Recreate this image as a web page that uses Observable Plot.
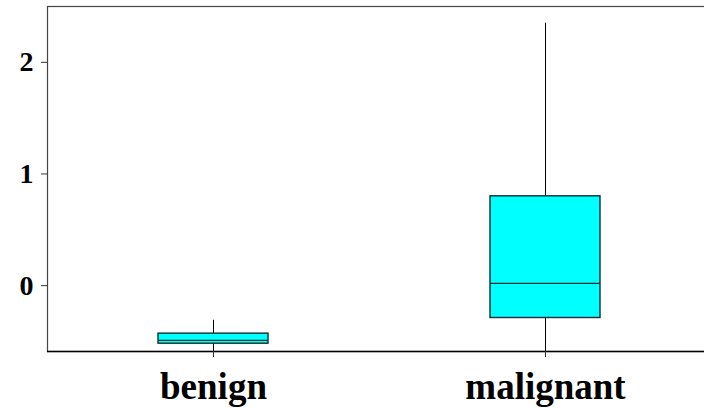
<!DOCTYPE html>
<html>
<head>
<meta charset="utf-8">
<script src="https://cdn.jsdelivr.net/npm/d3@7"></script>
<script src="https://cdn.jsdelivr.net/npm/@observablehq/plot@0.6"></script>
<style>
  html, body { margin: 0; padding: 0; background: #fff; }
  #chart svg { display: block; }
</style>
</head>
<body>
<div id="chart"></div>
<script>
const categories = ["benign", "malignant"];
const whiskerLow = [-0.59, -0.59];
const q1 = [-0.52, -0.29];
const median = [-0.49, 0.02];
const q3 = [-0.43, 0.80];
const whiskerHigh = [-0.31, 2.35];
const yTicks = [0, 1, 2];
const yDomain = [-0.59, 2.5];

const rows = categories.map((c, i) => ({
  cat: c, lo: whiskerLow[i], q1: q1[i], med: median[i], q3: q3[i], hi: whiskerHigh[i]
}));

const chart = Plot.plot({
  width: 704,
  height: 408,
  marginLeft: 47,
  marginRight: 0,
  marginTop: 6,
  marginBottom: 57,
  style: { fontFamily: "'Liberation Serif', 'Times New Roman', serif", background: "#fff", color: "#000" },
  x: { type: "band", domain: categories, range: [47, 711], padding: 0, label: null },
  y: { domain: yDomain, label: null },
  marks: [
    Plot.frame({ stroke: "#444", strokeWidth: 1.2, insetRight: -10 }),
    Plot.ruleX(rows, { x: "cat", y1: "lo", y2: "q1", stroke: "#000", strokeWidth: 1 }),
    Plot.ruleX(rows, { x: "cat", y1: "q3", y2: "hi", stroke: "#000", strokeWidth: 1 }),
    Plot.barY(rows, { x: "cat", y1: "q1", y2: "q3", fill: "#00ffff", stroke: "#0f2f2f", strokeWidth: 1.4, insetLeft: 111, insetRight: 111 }),
    Plot.tickY(rows, { x: "cat", y: "med", stroke: "#0f2f2f", strokeWidth: 1.4, insetLeft: 111, insetRight: 111 }),
    Plot.ruleY([yDomain[0]], { stroke: "#000", strokeWidth: 1.3 }),
    Plot.axisY({ ticks: yTicks, tickFormat: d3.format("d"), tickSize: 6, tickPadding: 8, fontSize: 28, fontWeight: "bold", label: null, stroke: "#333" }),
    Plot.axisX({ tickSize: 6, tickPadding: 15, fontSize: 37, fontWeight: "bold", label: null, stroke: "#333" })
  ]
});
document.getElementById("chart").appendChild(chart);
</script>
</body>
</html>
